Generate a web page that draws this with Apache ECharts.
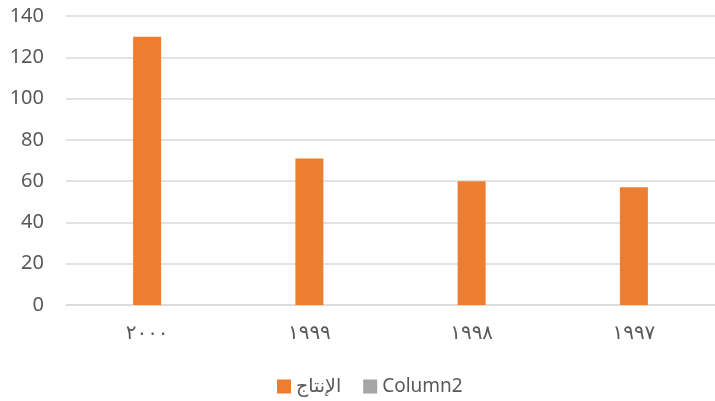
<!DOCTYPE html>
<html><head><meta charset="utf-8">
<script src="https://cdn.jsdelivr.net/npm/echarts@6/dist/echarts.min.js"></script>
<style>html,body{margin:0;padding:0;background:#fff}#c{width:715px;height:401px}</style>
</head><body><div id="c"></div>
<script>
const categories = ['٢٠٠٠', '١٩٩٩', '١٩٩٨', '١٩٩٧'];
const production = [130, 71, 60, 57];
const column2 = [null, null, null, null];
const seriesNames = ['الإنتاج', 'Column2'];
const yTicks = { min: 0, max: 140, interval: 20 };

const font = "'Noto Sans', 'DejaVu Sans', sans-serif";
const chart = echarts.init(document.getElementById('c'));
chart.setOption({
  animation: false,
  textStyle: { fontFamily: font },
  grid: { left: 66, right: -2, top: 16, bottom: 96, containLabel: false },
  legend: {
    top: 372, left: 272, itemWidth: 14, itemHeight: 14, itemGap: 22,
    icon: 'rect',
    textStyle: { color: '#595959', fontSize: 19, fontFamily: font },
    data: seriesNames
  },
  xAxis: {
    type: 'category', data: categories,
    axisLine: { lineStyle: { color: '#D9D9D9', width: 1.5 } },
    axisTick: { show: false },
    axisLabel: { color: '#595959', fontSize: 20, margin: 18, fontFamily: font }
  },
  yAxis: {
    type: 'value', min: yTicks.min, max: yTicks.max, interval: yTicks.interval,
    axisLine: { show: false }, axisTick: { show: false },
    axisLabel: { color: '#595959', fontSize: 20, margin: 22, fontFamily: font },
    splitLine: { lineStyle: { color: '#D9D9D9', width: 1.5 } }
  },
  series: [
    { name: seriesNames[0], type: 'bar', data: production, barWidth: 28,
      barGap: '-100%', itemStyle: { color: '#ED7D31' } },
    { name: seriesNames[1], type: 'bar', data: column2, barWidth: 28,
      barGap: '-100%', itemStyle: { color: '#A5A5A5' } }
  ]
});
</script></body></html>
